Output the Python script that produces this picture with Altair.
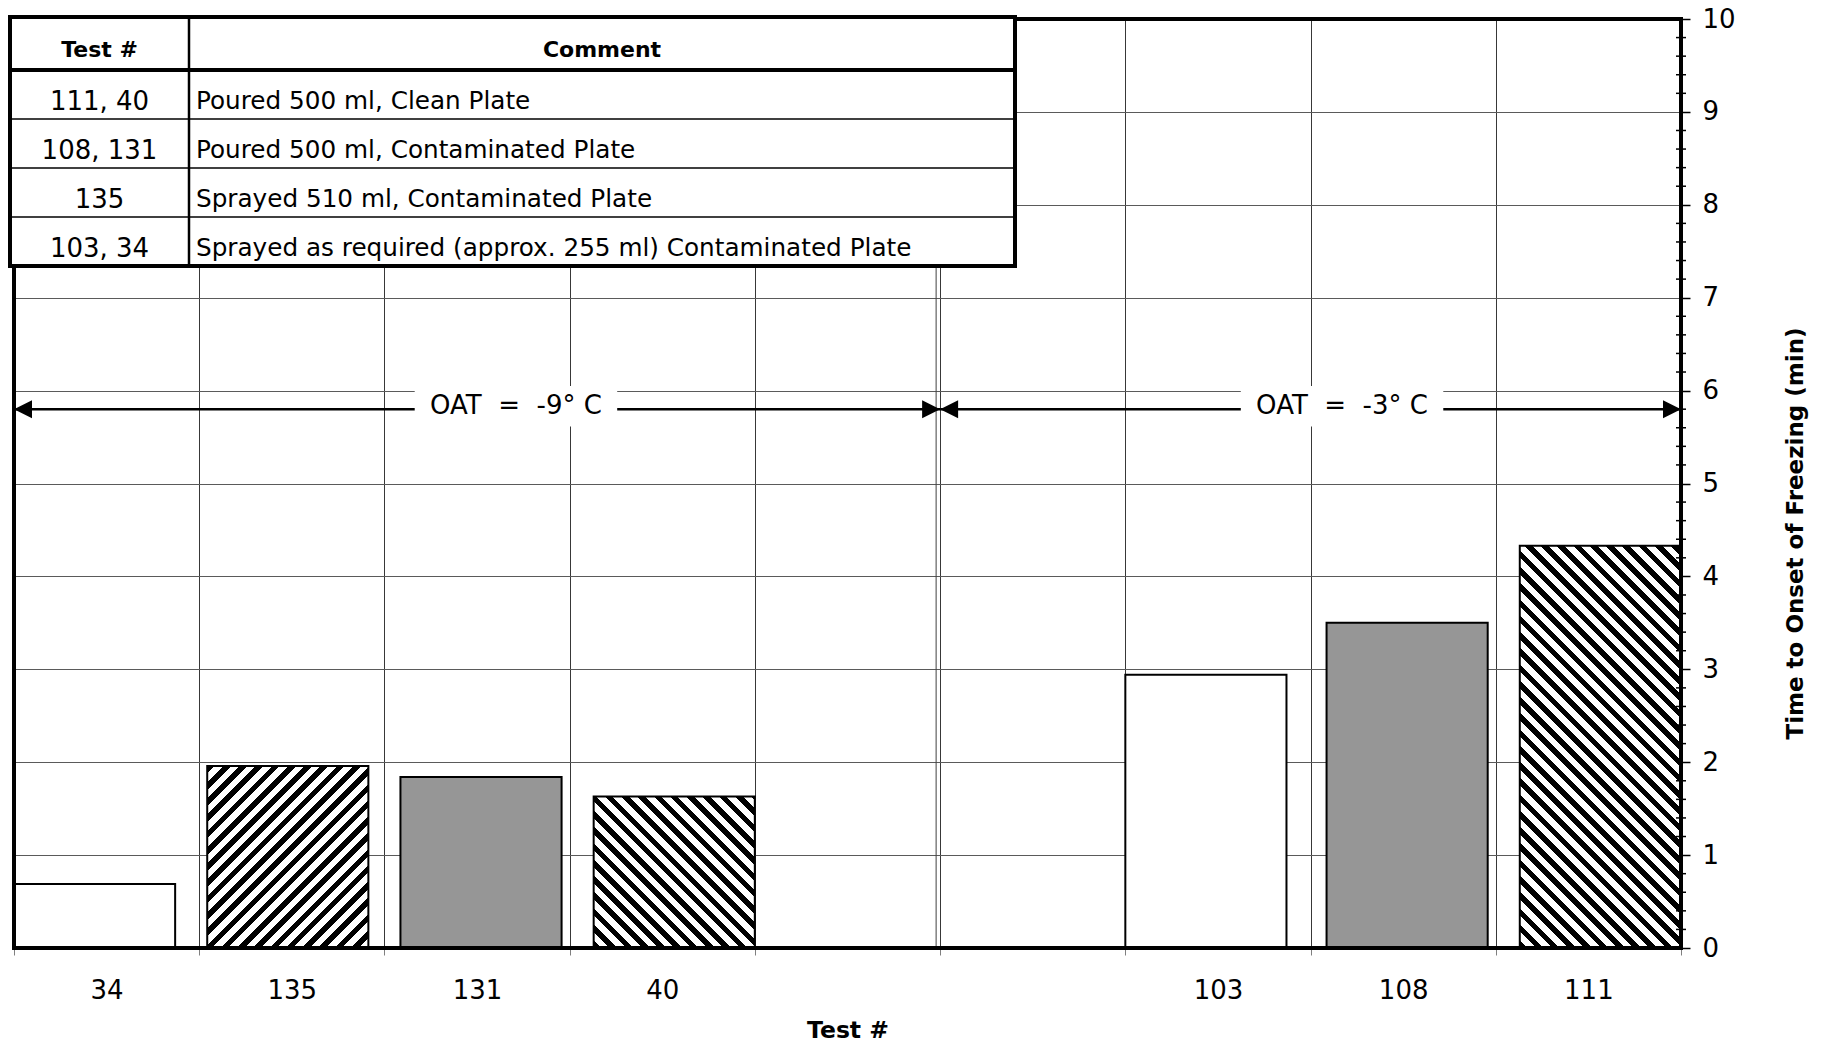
import math
import altair as alt
import pandas as pd

# ---------------- data ----------------
slot_labels = ["34", "135", "131", "40", "", " ", "103", "108", "111"]
bar_tests = ["34", "135", "131", "40", "103", "108", "111"]
bar_times = [0.69, 1.96, 1.84, 1.63, 2.94, 3.50, 4.33]
bar_series = [0, 1, 2, 3, 0, 2, 3]
series_names = [
    "Sprayed as required (approx. 255 ml) Contaminated Plate",
    "Sprayed 510 ml, Contaminated Plate",
    "Poured 500 ml, Contaminated Plate",
    "Poured 500 ml, Clean Plate",
]
series_fill = ["#ffffff", "hatch-up", "#969696", "hatch-down"]

oat_labels = ["OAT\u00a0\u00a0=\u00a0\u00a0-9°\u00a0C", "OAT\u00a0\u00a0=\u00a0\u00a0-3°\u00a0C"]
oat_start = [0, 5]
oat_end = [5, 9]
oat_label_pos = [2.71, 7.17]
oat_level = [5.8, 5.8]

y_major = list(range(0, 11))
y_minor = [round(i * 0.2, 1) for i in range(51) if i % 5 != 0]

table_header = ["Test #", "Comment"]
table_tests = ["111, 40", "108, 131", "135", "103, 34"]
table_comments = [
    "Poured 500 ml, Clean Plate",
    "Poured 500 ml, Contaminated Plate",
    "Sprayed 510 ml, Contaminated Plate",
    "Sprayed as required (approx. 255 ml) Contaminated Plate",
]

# ---------------- layout / style ----------------
W, H = 1667, 929
FONT = "DejaVu Sans"
n_slots = len(slot_labels)
band = W / n_slots
bar_frac = 0.87
bar_w = bar_frac * band
bar_shift_px = [0, 8, 16, 24]
center_gap = (band - bar_w) / 2

bars_df = pd.DataFrame({
    "test": bar_tests,
    "time": bar_times,
    "sidx": bar_series,
    "series": [series_names[i] for i in bar_series],
})

x_axis = alt.Axis(
    title="Test #", tickBand="extent", grid=True, gridColor="#383838", gridWidth=1,
    domain=False, ticks=True, tickColor="#808080", tickSize=7, tickWidth=1,
    labelAngle=0, labelFont=FONT, labelFontSize=26, labelColor="black",
    labelBaseline="middle", labelPadding=35,
    titleFont=FONT, titleFontSize=23.5, titleFontWeight="bold", titleColor="black",
    titleY=82, titleBaseline="middle",
)
y_axis = alt.Axis(
    orient="right", title="Time to Onset of Freezing (min)", values=y_major,
    grid=True, gridColor="#5a5a5a", gridWidth=1, domain=False,
    ticks=True, tickColor="black", tickSize=9, tickWidth=1.5,
    labelFont=FONT, labelFontSize=26, labelColor="black", labelPadding=12,
    labelAlign="left", labelOverlap=False,
    titleFont=FONT, titleFontSize=23, titleFontWeight="bold", titleColor="black",
    titleAngle=270, titleX=114, titleY=514, titleAlign="center", titleBaseline="middle",
)

x_band = alt.X("test:N", scale=alt.Scale(domain=slot_labels, paddingInner=0, paddingOuter=0),
               axis=x_axis, sort=slot_labels)
y_time = alt.Y("time:Q", scale=alt.Scale(domain=[0, 10], nice=False, zero=True), axis=y_axis)


def hatch_gradient(w, h, kind, period=11.5, dark=0.47):
    k = (w + h) / (w * w + h * h)
    if kind == "hatch-up":
        x1, y1, x2, y2 = 0, 0, k * w, k * h
    else:
        x1, y1, x2, y2 = 0, 1, k * w, 1 - k * h
    D = (w + h) / math.sqrt(2)
    stops = []
    n = int(D / period) + 1
    for i in range(n):
        a = i * period / D
        b = (i + dark) * period / D
        c = (i + 1) * period / D
        for off, col in ((a, "black"), (b, "black"), (b, "white"), (c, "white")):
            stops.append(alt.GradientStop(color=col, offset=min(off, 1.0)))
    return alt.LinearGradient(gradient="linear", stops=stops, x1=x1, y1=y1, x2=x2, y2=y2)


bar_layers = []
base = alt.Chart(bars_df)
for s, fill in enumerate(series_fill):
    off = bar_shift_px[s] - center_gap
    if fill.startswith("hatch"):
        for t, v, si in zip(bar_tests, bar_times, bar_series):
            if si != s:
                continue
            grad = hatch_gradient(bar_w, v * H / 10, fill)
            bar_layers.append(
                base.transform_filter(alt.datum.test == t)
                .mark_bar(fill=grad, stroke="black", strokeWidth=2,
                          width=alt.RelativeBandSize(bar_frac), xOffset=off)
                .encode(x=x_band, y=y_time, tooltip=["test:N", "time:Q", "series:N"])
            )
    else:
        bar_layers.append(
            base.transform_filter(alt.datum.sidx == s)
            .mark_bar(fill=fill, stroke="black", strokeWidth=2,
                      width=alt.RelativeBandSize(bar_frac), xOffset=off)
            .encode(x=x_band, y=y_time, tooltip=["test:N", "time:Q", "series:N"])
        )
bars = alt.layer(*bar_layers)

# ---------------- annotations ----------------
oat_df = pd.DataFrame({"label": oat_labels, "start": oat_start, "end": oat_end,
                       "pos": oat_label_pos, "level": oat_level})
xs = alt.Scale(domain=[0, n_slots], nice=False, zero=False)
ys = alt.Scale(domain=[0, 10], nice=False)


def xq(f):
    return alt.X(f"{f}:Q", scale=xs, axis=None)


def yq(f):
    return alt.Y(f"{f}:Q", scale=ys, axis=None)


one = pd.DataFrame({"k": [0]})
minor_df = pd.DataFrame({"v": y_minor})

separator = alt.Chart(one).mark_rule(color="#404040", strokeWidth=1).encode(
    x=alt.value(5 * band - 4), y=alt.value(0), y2=alt.value(H))
arrows = alt.Chart(oat_df).mark_rule(color="black", strokeWidth=2.5).encode(
    x=xq("start"), x2="end:Q", y=yq("level"))
heads_l = alt.Chart(oat_df).mark_point(shape="M0,0L2,-1L2,1Z", filled=True, color="black",
                                       size=324, opacity=1, strokeWidth=0).encode(
    x=xq("start"), y=yq("level"))
heads_r = alt.Chart(oat_df).mark_point(shape="M0,0L-2,-1L-2,1Z", filled=True, color="black",
                                       size=324, opacity=1, strokeWidth=0).encode(
    x=xq("end"), y=yq("level"))
boxes = alt.Chart(oat_df).mark_point(shape="M-1,-0.2H1V0.2H-1Z", filled=True, color="white",
                                     size=41000, opacity=1, strokeWidth=0, yOffset=-3).encode(
    x=xq("pos"), y=yq("level"))
oat_text = alt.Chart(oat_df).mark_text(font=FONT, fontSize=26, color="black",
                                       baseline="middle", dy=-3).encode(
    x=xq("pos"), y=yq("level"), text="label:N")
minor_ticks = alt.Chart(minor_df).mark_tick(orient="horizontal", size=10, thickness=1.5,
                                            color="black", opacity=1).encode(
    x=alt.value(W), y=yq("v"))
frame = alt.Chart(one).mark_rect(fillOpacity=0, stroke="black", strokeWidth=4).encode(
    x=alt.value(0), x2=alt.value(W), y=alt.value(0), y2=alt.value(H))

annot = alt.layer(separator, arrows, boxes, heads_l, heads_r, oat_text, minor_ticks, frame)

# ---------------- table ----------------
tab_left, tab_right, tab_top = -4, 1001, -2
head_h, row_h = 53, 49
tab_bottom = tab_top + head_h + row_h * len(table_tests)
col_x = 175
comment_pad = 7
text_up = 17

px = lambda f: alt.X(f"{f}:Q", scale=None, axis=None)
py = lambda f: alt.Y(f"{f}:Q", scale=None, axis=None)

tframe_df = pd.DataFrame({"x": [tab_left], "x2": [tab_right], "y": [tab_top], "y2": [tab_bottom]})
tframe = alt.Chart(tframe_df).mark_rect(fill="white", stroke="black", strokeWidth=4).encode(
    x=px("x"), x2="x2:Q", y=py("y"), y2="y2:Q")

hl_df = pd.DataFrame({
    "y": [tab_top + head_h + row_h * k for k in range(len(table_tests))],
    "w": [4] + [1.5] * (len(table_tests) - 1),
    "x": tab_left, "x2": tab_right,
})
hlines = alt.Chart(hl_df).mark_rule(color="black").encode(
    x=px("x"), x2="x2:Q", y=py("y"),
    strokeWidth=alt.StrokeWidth("w:Q", scale=None, legend=None))
vline = alt.Chart(pd.DataFrame({"x": [col_x], "y": [tab_top], "y2": [tab_bottom]})).mark_rule(
    color="black", strokeWidth=2.5).encode(x=px("x"), y=py("y"), y2="y2:Q")

head_df = pd.DataFrame({
    "t": table_header,
    "x": [(tab_left + col_x) / 2, (col_x + tab_right) / 2],
    "y": [tab_top + 33, tab_top + 33],
})
head_text = alt.Chart(head_df).mark_text(font=FONT, fontSize=22, fontWeight="bold",
                                         color="black", baseline="middle").encode(
    x=px("x"), y=py("y"), text="t:N")

rows_df = pd.DataFrame({
    "test": table_tests,
    "comment": table_comments,
    "y": [tab_top + head_h + row_h * (i + 1) - text_up for i in range(len(table_tests))],
    "xt": (tab_left + col_x) / 2,
    "xc": col_x + comment_pad,
})
row_tests = alt.Chart(rows_df).mark_text(font=FONT, fontSize=26, color="black",
                                         baseline="middle", align="center").encode(
    x=px("xt"), y=py("y"), text="test:N")
row_comments = alt.Chart(rows_df).mark_text(font=FONT, fontSize=24.7, color="black",
                                            baseline="middle", align="left").encode(
    x=px("xc"), y=py("y"), text="comment:N")

table = alt.layer(tframe, hlines, vline, head_text, row_tests, row_comments)

chart = (
    alt.layer(bars, annot, table)
    .resolve_scale(x="independent", y="independent")
    .properties(
        width=W, height=H,
        autosize=alt.AutoSizeParams(type="none"),
        padding={"left": 6, "top": 11, "right": 130, "bottom": 94},
        background="white",
    )
    .configure_view(strokeWidth=0)
)

chart.save("out.html", embed_options={"renderer": "svg", "actions": False})
